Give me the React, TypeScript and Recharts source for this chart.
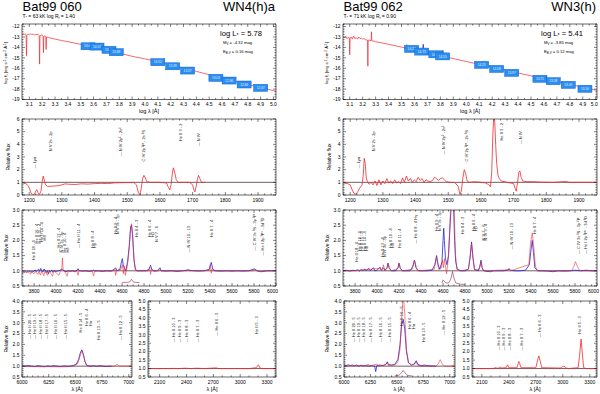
import { ComposedChart, Line, Scatter, XAxis, YAxis, ReferenceLine, ReferenceArea } from 'recharts'

// ---------- Bat99 060 (left column) ----------
const sedModelA = [
  [3.043, -12.72], [3.05, -12.68], [3.06, -12.74], [3.07, -12.7], [3.075, -12.8], [3.078, -14.8], [3.081, -12.85],
  [3.09, -12.72], [3.1, -12.78], [3.11, -12.7], [3.12, -12.76], [3.13, -12.72], [3.14, -12.8], [3.15, -12.74],
  [3.16, -12.78], [3.17, -12.75], [3.177, -12.85], [3.18, -15.6], [3.183, -12.9], [3.19, -12.82], [3.2, -12.8],
  [3.207, -12.9], [3.21, -14.5], [3.213, -12.95], [3.22, -12.9], [3.228, -12.95], [3.231, -14.2], [3.234, -13.0],
  [3.25, -13.05], [3.3, -13.2], [3.35, -13.33], [3.4, -13.45], [3.5, -13.7], [3.6, -13.98], [3.7, -14.25],
  [3.8, -14.55], [3.9, -14.85], [4.0, -15.1], [4.1, -15.37], [4.2, -15.7], [4.3, -16.0], [4.4, -16.3],
  [4.5, -16.62], [4.6, -16.93], [4.7, -17.23], [4.8, -17.55], [4.9, -17.85], [5.0, -18.15], [5.02, -18.2],
]
const sedObsA = [
  [3.52, -13.75], [3.54, -13.82], [3.56, -13.85], [3.58, -13.9], [3.6, -13.95], [3.62, -14.0], [3.64, -14.05],
  [3.66, -14.1], [3.671, -13.95], [3.68, -14.15], [3.7, -14.2], [3.72, -14.28], [3.74, -14.33], [3.76, -14.4],
  [3.78, -14.45], [3.8, -14.5], [3.82, -14.55],
]
const photLogA = [3.557, 3.627, 3.72, 3.777, 4.1, 4.216, 4.332, 4.552, 4.655, 4.772, 4.901]
const photFluxA = [-13.89, -13.92, -14.23, -14.46, -15.42, -15.81, -16.22, -16.92, -17.18, -17.56, -17.88]
const photMagA = ['13.62', '14.07', '13.96', '13.88', '13.52', '13.39', '13.27', '13.03', '12.96', '12.84', '12.67']

const uvModelA = [
  [1178, 0.95], [1190, 0.9], [1198, 0.7], [1205, 0.2], [1210, 0.02], [1216, 0.05], [1220, 0.3], [1223, 0.42],
  [1227, 0.2], [1231, 0.02], [1236, 0.3], [1240, 1.1], [1243, 1.5], [1246, 1.2], [1250, 0.8], [1256, 0.68],
  [1270, 0.7], [1285, 0.72], [1300, 0.8], [1310, 0.88], [1320, 0.85], [1340, 0.83], [1360, 0.88], [1380, 0.86],
  [1400, 0.9], [1420, 0.92], [1440, 0.9], [1460, 0.95], [1480, 0.97], [1500, 0.98], [1520, 0.98], [1528, 0.8],
  [1534, 0.2], [1538, 0.02], [1542, 0.4], [1547, 1.3], [1551, 1.55], [1555, 1.35], [1560, 1.05], [1570, 1.0],
  [1600, 1.0], [1620, 0.95], [1626, 0.6], [1630, 0.4], [1634, 0.8], [1638, 1.7], [1641, 2.15], [1645, 1.8],
  [1650, 1.2], [1656, 1.0], [1690, 1.0], [1700, 0.8], [1704, 0.4], [1707, 0.25], [1711, 0.7], [1715, 1.3],
  [1718, 1.55], [1722, 1.3], [1727, 1.0], [1740, 1.0],
]
const uvIdsA = [
  { w: 1216, t: '— Lyα', y: 2.1 },
  { w: 1264, t: 'N V 2s - 2p', y: 3.45 },
  { w: 1478, t: '— N IV 2p² - 2s²', y: 3.05 },
  { w: 1549, t: 'C IV 2p ²P - 2s ²S', y: 2.65 },
  { w: 1664, t: 'He II 3 - 2', y: 4.25 },
  { w: 1717, t: '— N IV', y: 3.85 },
]

const optObsA = [
  [3690, 0.95], [3700, 0.97], [3710, 0.94], [3720, 0.98], [3730, 0.95], [3740, 0.99], [3750, 0.96], [3760, 1.0],
  [3770, 0.95], [3780, 0.98], [3790, 0.96], [3800, 1.0], [3810, 1.03], [3820, 0.97], [3830, 1.02], [3840, 1.05],
  [3850, 0.98], [3860, 1.08], [3870, 1.0], [3880, 0.96], [3890, 1.06], [3900, 1.02], [3910, 0.94], [3920, 1.0],
  [3930, 0.9], [3940, 1.0], [3950, 0.97], [3960, 1.02], [3970, 0.95], [3980, 1.0], [4000, 0.98], [4020, 1.0],
  [4040, 1.02], [4058, 1.05], [4070, 1.0], [4090, 0.97], [4110, 1.0], [4130, 0.98], [4150, 1.0], [4170, 0.97],
  [4190, 1.02], [4200, 1.07], [4210, 1.0], [4240, 0.99], [4270, 1.0], [4300, 0.98], [4330, 1.0], [4340, 1.03],
  [4350, 0.99], [4380, 1.0], [4420, 0.98], [4460, 1.0], [4500, 0.99], [4530, 1.05], [4541, 1.1], [4555, 1.0],
  [4580, 1.05], [4598, 1.35], [4603, 1.4], [4610, 1.2], [4620, 1.1], [4635, 1.0], [4650, 1.3], [4665, 1.8],
  [4678, 2.45], [4686, 2.5], [4695, 2.2], [4708, 1.4], [4720, 1.05], [4740, 1.0], [4780, 1.0], [4820, 1.0],
  [4845, 1.05], [4859, 1.18], [4870, 1.05], [4890, 0.99], [4920, 1.0], [4945, 1.1], [4955, 1.0], [5000, 0.99],
  [5050, 1.0], [5100, 0.98], [5150, 1.0], [5200, 1.03], [5250, 1.0], [5300, 0.99], [5350, 1.0], [5395, 1.05],
  [5411, 1.28], [5425, 1.05], [5450, 1.0], [5500, 0.99], [5550, 1.0], [5600, 0.99], [5650, 1.0], [5700, 0.99],
  [5750, 1.0], [5805, 1.06], [5830, 1.0], [5860, 0.97], [5880, 0.98], [5920, 1.0], [5960, 1.0], [6000, 1.0],
]
const optModelA = [
  [3690, 0.97], [3720, 0.96], [3750, 0.95], [3770, 0.9], [3780, 0.97], [3797, 0.9], [3810, 0.98], [3835, 0.88],
  [3845, 0.98], [3858, 0.86], [3870, 0.99], [3889, 0.84], [3900, 0.99], [3923, 0.85], [3935, 1.0], [3968, 0.82],
  [3980, 1.0], [4026, 0.85], [4040, 1.0], [4052, 1.1], [4058, 1.42], [4064, 1.05], [4075, 1.0], [4100, 0.82],
  [4112, 1.0], [4190, 0.98], [4200, 0.85], [4210, 1.03], [4215, 1.0], [4330, 0.98], [4340, 0.83], [4352, 1.0],
  [4520, 0.99], [4535, 1.05], [4541, 0.85], [4550, 1.0], [4590, 1.05], [4603, 1.2], [4612, 0.9], [4620, 1.15],
  [4630, 0.85], [4645, 1.1], [4660, 1.5], [4675, 2.3], [4686, 2.55], [4697, 2.1], [4710, 1.3], [4725, 1.0],
  [4840, 1.0], [4852, 1.1], [4859, 0.88], [4868, 1.05], [4880, 1.0], [4935, 1.0], [4945, 1.05], [4955, 1.0],
  [5190, 1.0], [5200, 1.03], [5210, 1.0], [5390, 1.02], [5402, 1.2], [5411, 0.92], [5418, 1.05], [5430, 1.0],
  [5790, 1.0], [5805, 1.06], [5820, 1.0], [5876, 0.97], [5890, 1.0], [6000, 1.0],
]
const optInsetA = [[4600, 0.62], [4650, 0.62], [4670, 0.64], [4686, 0.72], [4700, 0.64], [4720, 0.62], [4760, 0.61]]
const optIdsA = [
  { w: 3796, t: 'He II 18 - 4', y: 1.35 },
  { w: 3822, t: 'He II 16 - 4', y: 1.9 },
  { w: 3845, t: 'He II 15 - 4', y: 1.9 },
  { w: 3868, t: 'He II 14 - 4', y: 1.95 },
  { w: 3892, t: 'H8', y: 2.0 },
  { w: 4026, t: '— He II 13 - 4', y: 1.6 },
  { w: 4052, t: 'N IV 3s - 3p', y: 1.6 },
  { w: 4080, t: 'He II 10 - 4', y: 1.6 },
  { w: 4102, t: 'Hδ', y: 1.6 },
  { w: 4200, t: '— He II 11 - 4', y: 1.75 },
  { w: 4330, t: 'He II 8 - 4', y: 1.75 },
  { w: 4352, t: 'Hγ', y: 1.75 },
  { w: 4536, t: 'He II 9 - 4', y: 2.2 },
  { w: 4560, t: 'N V 3s - 3p', y: 2.2 },
  { w: 4730, t: 'He II 4 - 3', y: 2.1 },
  { w: 4852, t: 'He II 6 - 4', y: 2.1 },
  { w: 4874, t: 'Hβ', y: 2.1 },
  { w: 4910, t: 'N V 7 - 6', y: 1.95 },
  { w: 5205, t: '— N IV 10 - 13', y: 1.6 },
  { w: 5415, t: 'He II 7 - 4', y: 2.1 },
  { w: 5805, t: '— C IV 3s ²S - 3p ²P', y: 1.67 },
  { w: 5876, t: '— He I 2p ³P° - 3d ³D', y: 1.5 },
]

const redObsA = [
  [6000, 1.02], [6030, 1.0], [6060, 1.03], [6090, 1.0], [6120, 0.98], [6150, 1.02], [6180, 1.0], [6210, 0.97],
  [6240, 1.01], [6270, 0.99], [6300, 1.02], [6330, 1.0], [6360, 0.98], [6390, 1.01], [6420, 1.0], [6450, 1.0],
  [6480, 1.03], [6510, 1.1], [6530, 1.3], [6545, 1.6], [6560, 1.75], [6575, 1.55], [6590, 1.2], [6610, 1.03],
  [6640, 1.0], [6670, 1.02], [6700, 0.99], [6730, 1.02], [6760, 1.0], [6790, 0.98], [6840, 1.0],
]
const redModelA = [
  [6000, 1.0], [6074, 0.98], [6118, 0.98], [6170, 0.97], [6233, 0.98], [6311, 0.97], [6406, 0.97], [6480, 1.0],
  [6520, 1.1], [6540, 1.4], [6560, 1.72], [6580, 1.4], [6600, 1.05], [6620, 1.0], [6683, 1.02], [6700, 1.0],
  [6870, 1.0], [6891, 1.1], [6910, 1.0], [7030, 1.0],
]
const redIdsA = [
  { w: 6074, t: '— He II 20 - 5', y: 2.25 },
  { w: 6118, t: '— He II 19 - 5', y: 2.25 },
  { w: 6170, t: '— He II 18 - 5', y: 2.25 },
  { w: 6233, t: '— He II 17 - 5', y: 2.25 },
  { w: 6311, t: '— He II 16 - 5', y: 2.25 },
  { w: 6406, t: '— He II 15 - 5', y: 2.25 },
  { w: 6545, t: 'He II 14 - 5', y: 2.55 },
  { w: 6605, t: 'He II 6 - 4', y: 2.85 },
  { w: 6640, t: 'Hα', y: 2.85 },
  { w: 6715, t: 'He II 13 - 5', y: 2.2 },
  { w: 6918, t: '— He II 12 - 5', y: 2.2 },
]

const nuvModelA = [
  [1970, 1.0], [2200, 1.0], [2253, 1.01], [2306, 1.0], [2385, 1.02], [2450, 1.0], [2511, 1.02], [2600, 1.0],
  [2733, 1.04], [2760, 1.0], [3100, 1.0], [3180, 1.05], [3203, 1.22], [3220, 1.05], [3240, 1.0], [3400, 1.0],
]
const nuvIdsA = [
  { w: 2253, t: '— He II 10 - 3', y: 2.55 },
  { w: 2327, t: '— He II 9 - 3', y: 2.55 },
  { w: 2395, t: '— He II 8 - 3', y: 2.55 },
  { w: 2521, t: '— He II 7 - 3', y: 2.55 },
  { w: 2737, t: '— He II 6 - 3', y: 2.95 },
  { w: 3184, t: 'He II 5 - 3', y: 3.05 },
]

// ---------- Bat99 062 (right column) ----------
const sedModelB = [
  [3.048, -13.05], [3.055, -13.0], [3.06, -13.1], [3.07, -12.95], [3.08, -13.15], [3.09, -13.0], [3.097, -13.1],
  [3.1, -14.7], [3.103, -13.1], [3.11, -13.0], [3.12, -13.2], [3.13, -12.9], [3.14, -13.15], [3.15, -13.05],
  [3.16, -13.2], [3.17, -13.0], [3.18, -13.15], [3.19, -13.1], [3.2, -13.2], [3.21, -13.15], [3.22, -13.25],
  [3.237, -13.3], [3.24, -15.8], [3.243, -13.3], [3.25, -13.3], [3.265, -13.35], [3.268, -12.5], [3.271, -13.35],
  [3.3, -13.45], [3.4, -13.7], [3.5, -13.97], [3.6, -14.25], [3.7, -14.52], [3.8, -14.8], [3.9, -15.07],
  [4.0, -15.35], [4.1, -15.62], [4.2, -15.9], [4.3, -16.17], [4.4, -16.45], [4.5, -16.73], [4.6, -17.0],
  [4.7, -17.27], [4.8, -17.55], [4.9, -17.82], [5.0, -18.1], [5.01, -18.13],
]
const sedObsB = [
  [3.52, -14.05], [3.535, -14.1], [3.54, -13.75], [3.545, -14.15], [3.56, -14.15], [3.58, -14.2], [3.6, -14.25],
  [3.62, -14.3], [3.64, -14.38], [3.66, -14.45], [3.668, -13.7], [3.674, -14.5], [3.69, -14.5], [3.7, -14.4],
  [3.71, -14.6], [3.73, -14.65], [3.75, -14.7], [3.76, -14.55], [3.78, -14.75], [3.8, -14.8], [3.815, -14.82],
  [3.82, -14.3], [3.825, -15.0], [3.83, -14.85],
]
const photLogB = [3.578, 3.656, 3.765, 3.818, 4.119, 4.235, 4.351, 4.569, 4.672, 4.788, 4.917]
const photFluxB = [-14.14, -14.4, -14.66, -14.86, -15.67, -16.06, -16.44, -17.01, -17.24, -17.59, -17.97]
const photMagB = ['14.22', '14.73', '14.61', '14.55', '14.23', '14.08', '13.97', '13.71', '13.58', '13.49', '13.30']

const uvModelB = [
  [1178, 0.95], [1192, 0.9], [1200, 0.8], [1206, 0.4], [1212, 0.1], [1218, 0.05], [1224, 0.3], [1230, 0.6],
  [1236, 0.75], [1240, 1.6], [1243, 2.9], [1246, 2.5], [1249, 1.4], [1253, 1.0], [1258, 0.85], [1264, 1.0],
  [1270, 0.8], [1276, 1.1], [1282, 0.75], [1288, 1.2], [1294, 0.8], [1300, 1.1], [1306, 0.9], [1312, 1.3],
  [1318, 0.95], [1324, 1.1], [1330, 0.9], [1336, 1.2], [1342, 0.95], [1348, 1.05], [1354, 0.9], [1360, 1.35],
  [1366, 1.0], [1372, 1.5], [1378, 1.1], [1384, 1.3], [1390, 1.0], [1396, 1.2], [1402, 1.05], [1408, 1.4],
  [1414, 1.15], [1420, 1.3], [1426, 1.0], [1432, 1.2], [1438, 1.1], [1444, 1.05], [1452, 1.15], [1458, 1.4],
  [1464, 1.3], [1470, 1.15], [1476, 1.3], [1482, 1.35], [1488, 1.2], [1494, 1.05], [1505, 1.0], [1520, 0.98],
  [1530, 0.7], [1536, 0.05], [1540, 0.3], [1545, 1.4], [1549, 2.0], [1553, 1.7], [1558, 1.1], [1565, 1.0],
  [1580, 1.05], [1600, 1.0], [1615, 0.95], [1624, 0.8], [1629, 0.65], [1633, 1.8], [1636, 4.5], [1639, 6.2],
  [1642, 5.9], [1645, 4.0], [1648, 2.5], [1652, 1.6], [1656, 1.3], [1662, 1.1], [1680, 1.0], [1700, 0.9],
  [1705, 0.5], [1708, 0.3], [1712, 1.0], [1716, 1.8], [1719, 1.9], [1723, 1.4], [1728, 1.1], [1740, 1.05],
  [1760, 1.05], [1780, 1.02], [1820, 1.0], [1860, 1.06], [1870, 1.0], [1955, 1.0],
]
const uvIdsB = [
  { w: 1225, t: '— Lyα', y: 2.1 },
  { w: 1271, t: 'N V 2s - 2p', y: 3.45 },
  { w: 1485, t: '— N IV 2p² - 2s²', y: 3.2 },
  { w: 1557, t: 'C IV 2p ²P - 2s ²S', y: 2.65 },
  { w: 1662, t: 'He II 3 - 2', y: 4.3 },
  { w: 1720, t: '— N IV', y: 4.0 },
]

const optObsB = [
  [3690, 1.0], [3720, 1.02], [3750, 0.99], [3780, 1.02], [3800, 1.0], [3820, 1.03], [3840, 0.99], [3858, 1.05],
  [3870, 1.0], [3889, 1.06], [3900, 1.0], [3923, 1.08], [3935, 1.0], [3968, 1.1], [3980, 1.0], [4000, 1.02],
  [4026, 1.12], [4040, 1.02], [4058, 1.1], [4070, 1.02], [4090, 1.1], [4100, 1.25], [4110, 1.1], [4130, 1.0],
  [4170, 1.0], [4190, 1.1], [4200, 1.25], [4210, 1.1], [4230, 1.0], [4300, 1.0], [4325, 1.15], [4340, 1.35],
  [4355, 1.1], [4380, 1.0], [4450, 1.0], [4500, 1.02], [4525, 1.2], [4541, 1.5], [4555, 1.2], [4570, 1.05],
  [4590, 1.3], [4600, 2.0], [4606, 2.4], [4612, 2.0], [4622, 1.4], [4635, 1.2], [4650, 1.5], [4665, 2.6],
  [4676, 3.2], [4686, 3.5], [4696, 3.1], [4705, 2.0], [4715, 1.3], [4730, 1.05], [4760, 1.0], [4800, 1.0],
  [4830, 1.05], [4845, 1.4], [4859, 1.95], [4870, 1.5], [4885, 1.05], [4920, 1.0], [4935, 1.15], [4945, 1.35],
  [4955, 1.1], [4970, 1.0], [5000, 0.98], [5030, 0.97], [5060, 1.0], [5100, 1.0], [5150, 1.0], [5190, 1.03],
  [5200, 1.06], [5215, 1.02], [5250, 1.0], [5300, 1.0], [5350, 1.02], [5385, 1.2], [5400, 1.7], [5411, 2.0],
  [5422, 1.6], [5435, 1.1], [5460, 1.0], [5500, 1.0], [5550, 0.99], [5600, 0.97], [5650, 1.0], [5700, 0.99],
  [5750, 1.0], [5800, 1.02], [5850, 1.0], [5900, 1.02], [5950, 1.0], [6000, 1.0],
]
const optModelB = [
  [3690, 1.0], [3780, 1.0], [3858, 1.03], [3889, 1.04], [3923, 1.05], [3968, 1.06], [4026, 1.08], [4040, 1.0],
  [4058, 1.2], [4070, 1.0], [4090, 1.08], [4100, 1.25], [4110, 1.08], [4130, 1.0], [4190, 1.08], [4200, 1.25],
  [4210, 1.08], [4230, 1.0], [4320, 1.05], [4340, 1.35], [4358, 1.05], [4380, 1.0], [4520, 1.05], [4541, 1.45],
  [4560, 1.05], [4585, 1.1], [4596, 1.35], [4603, 1.1], [4612, 1.4], [4620, 1.2], [4632, 0.9], [4645, 1.3],
  [4660, 2.3], [4672, 3.4], [4686, 4.2], [4700, 3.2], [4712, 1.6], [4725, 1.05], [4760, 1.0], [4830, 1.05],
  [4845, 1.45], [4859, 1.9], [4873, 1.4], [4888, 1.02], [4930, 1.05], [4945, 1.3], [4958, 1.05], [4980, 1.0],
  [5190, 1.03], [5200, 1.08], [5212, 1.0], [5380, 1.2], [5395, 1.9], [5411, 2.25], [5425, 1.8], [5440, 1.15],
  [5460, 1.0], [5770, 1.0], [5790, 1.15], [5805, 1.3], [5820, 1.15], [5840, 1.02], [5870, 1.0], [6000, 1.0],
]
const optInsetB = [
  [4590, 0.6], [4600, 0.7], [4610, 0.66], [4625, 0.6], [4650, 0.6], [4670, 0.72], [4686, 0.98], [4700, 0.75],
  [4715, 0.6], [4760, 0.56], [4800, 0.55],
]
const optIdsB = [
  { w: 3815, t: 'He II 18 - 4', y: 1.3 },
  { w: 3840, t: 'He II 16 - 4', y: 1.65 },
  { w: 3862, t: 'He II 15 - 4', y: 1.65 },
  { w: 3884, t: 'He II 14 - 4', y: 1.65 },
  { w: 3906, t: 'H8', y: 1.65 },
  { w: 4045, t: 'He II 13 - 4', y: 1.45 },
  { w: 4068, t: 'N IV 3s - 3p', y: 1.45 },
  { w: 4118, t: 'He II 10 - 4', y: 1.75 },
  { w: 4140, t: 'Hδ', y: 1.75 },
  { w: 4205, t: 'He II 11 - 4', y: 1.75 },
  { w: 4345, t: '— He II 8 - 4 Hγ', y: 1.9 },
  { w: 4545, t: 'He II 9 - 4', y: 2.3 },
  { w: 4570, t: 'N V 3s - 3p', y: 2.3 },
  { w: 4778, t: 'He II 4 - 3', y: 2.2 },
  { w: 4875, t: 'He II 6 - 4', y: 2.3 },
  { w: 4898, t: 'Hβ', y: 2.3 },
  { w: 4965, t: 'N V 7 - 6', y: 2.0 },
  { w: 4990, t: 'N IV 3 - 4', y: 2.0 },
  { w: 5224, t: '— N IV 10 - 13', y: 1.7 },
  { w: 5435, t: 'He II 7 - 4', y: 2.2 },
  { w: 5829, t: '— C IV 3s ²S - 3p ²P', y: 1.55 },
  { w: 5899, t: '— He I 2p ³P° - 3d ³D', y: 1.55 },
]

const redObsB = [
  [6000, 1.05], [6020, 1.02], [6040, 1.06], [6060, 1.03], [6080, 1.05], [6100, 1.02], [6120, 1.05], [6140, 1.0],
  [6160, 1.04], [6180, 1.01], [6200, 1.03], [6230, 1.0], [6260, 1.02], [6290, 1.0], [6300, 0.75], [6310, 1.02],
  [6340, 1.05], [6370, 1.03], [6400, 1.1], [6410, 1.2], [6420, 1.08], [6450, 1.05], [6480, 1.08], [6510, 1.3],
  [6530, 2.0], [6545, 2.9], [6560, 3.15], [6575, 2.7], [6590, 1.7], [6610, 1.15], [6640, 1.05], [6665, 1.1],
  [6683, 1.25], [6700, 1.08], [6730, 1.02], [6760, 1.05], [6790, 1.02], [6870, 1.0],
]
const redModelB = [
  [6000, 1.0], [6050, 1.02], [6100, 1.0], [6118, 1.04], [6130, 1.0], [6170, 1.05], [6185, 1.0], [6233, 1.08],
  [6245, 1.0], [6311, 1.1], [6325, 1.0], [6390, 1.05], [6406, 1.15], [6420, 1.03], [6480, 1.05], [6510, 1.2],
  [6530, 1.8], [6545, 3.2], [6560, 4.3], [6575, 3.4], [6590, 1.8], [6610, 1.15], [6640, 1.05], [6670, 1.1],
  [6683, 1.2], [6695, 1.05], [6720, 1.0], [6870, 1.0], [6890, 1.1], [6910, 1.3], [6930, 1.1], [6950, 1.0],
  [7050, 1.0],
]
const redInsetB = [[6480, 0.55], [6520, 0.58], [6545, 0.7], [6560, 0.8], [6575, 0.7], [6600, 0.58], [6640, 0.55]]
const redIdsB = [
  { w: 6088, t: '— He II 20 - 5', y: 2.1 },
  { w: 6135, t: '— He II 19 - 5', y: 2.1 },
  { w: 6183, t: '— He II 18 - 5', y: 2.1 },
  { w: 6253, t: '— He II 17 - 5', y: 2.1 },
  { w: 6341, t: '— He II 16 - 5', y: 2.1 },
  { w: 6435, t: '— He II 15 - 5', y: 2.1 },
  { w: 6546, t: 'He II 14 - 5', y: 2.85 },
  { w: 6624, t: 'He II 6 - 4', y: 2.7 },
  { w: 6660, t: 'Hα', y: 2.7 },
  { w: 6750, t: 'He II 13 - 5', y: 2.1 },
  { w: 6940, t: '— He II 12 - 5', y: 2.45 },
]

const nuvModelB = [
  [1990, 1.0], [2200, 1.0], [2240, 1.02], [2253, 1.06], [2266, 1.02], [2295, 1.03], [2306, 1.1], [2318, 1.03],
  [2370, 1.05], [2385, 1.22], [2400, 1.05], [2490, 1.05], [2505, 1.3], [2511, 1.42], [2520, 1.3], [2535, 1.05],
  [2700, 1.05], [2720, 1.5], [2733, 1.75], [2746, 1.5], [2765, 1.05], [2980, 1.03], [3000, 1.12], [3015, 1.15],
  [3030, 1.05], [3060, 1.0], [3170, 1.05], [3185, 1.7], [3203, 2.75], [3218, 1.8], [3232, 1.05], [3260, 1.0],
  [3380, 1.0],
]
const nuvIdsB = [
  { w: 2290, t: '— He II 10 - 3', y: 2.07 },
  { w: 2338, t: '— He II 9 - 3', y: 2.07 },
  { w: 2405, t: '— He II 8 - 3', y: 2.07 },
  { w: 2543, t: '— He II 7 - 3', y: 2.07 },
  { w: 2746, t: '— He II 6 - 3', y: 2.86 },
  { w: 3191, t: 'He II 5 - 3', y: 3.06 },
]

// ---------- tick labels ----------
const sedXTicks = [3.1, 3.2, 3.3, 3.4, 3.5, 3.6, 3.7, 3.8, 3.9, 4.0, 4.1, 4.2, 4.3, 4.4, 4.5, 4.6, 4.7, 4.8, 4.9, 5.0]
const sedYTicks = [-19, -18, -17, -16, -15, -14, -13, -12]
const uvXTicks = [1200, 1300, 1400, 1500, 1600, 1700, 1800, 1900]
const uvYTicks = [0, 1, 2, 3, 4, 5, 6]
const optXTicks = [3800, 4000, 4200, 4400, 4600, 4800, 5000, 5200, 5400, 5600, 5800, 6000]
const optYTicks = [0.5, 1.0, 1.5, 2.0, 2.5, 3.0]
const redXTicks = [6000, 6250, 6500, 6750, 7000]
const redYTicks = [0.5, 1.0, 1.5, 2.0, 2.5, 3.0, 3.5, 4.0]
const nuvXTicks = [2100, 2400, 2700, 3000, 3300]
const nuvYTicks = [0.5, 1.0, 1.5, 2.0, 2.5, 3.0, 3.5, 4.0, 4.5, 5.0]

const RED = '#ee2a30'
const BLUE = '#2323d8'
const INSET = '#8a2840'

type Pt = { x: number; y: number }
const xy = (a: number[][]): Pt[] => a.map(([x, y]) => ({ x, y }))

interface Series { data: number[][]; color: string; width?: number; opacity?: number }
interface Lbl { w: number; t: string; y: number }
interface Box { x: number; y: number; m: string }

interface PanelProps {
  x: number
  y: number
  w: number
  h: number
  xDom: [number, number]
  yDom: [number, number]
  xMajor: number[]
  yMajor: number[]
  xStep: number
  yStep: number
  xFmt: (v: number) => string
  yFmt: (v: number) => string
  series: Series[]
  over?: Series[]
  labels?: Lbl[]
  boxes?: Box[]
  unity?: boolean
}

const minorTicks = (dom: [number, number], step: number) => {
  const out: number[] = []
  const n0 = Math.ceil(dom[0] / step - 1e-9)
  const n1 = Math.floor(dom[1] / step + 1e-9)
  for (let i = n0; i <= n1; i++) out.push(+(i * step).toFixed(4))
  return out
}
const isMajor = (v: number, majors: number[]) => majors.some((m) => Math.abs(m - v) < 1e-6)

const LabelShape = (s: any) => (
  <text
    transform={`rotate(-90 ${s.cx} ${s.cy})`}
    x={s.cx}
    y={s.cy}
    dy={1.5}
    fontSize={4}
    fill="#111"
  >
    {s.payload.t}
  </text>
)

const BoxShape = (s: any) => (
  <g>
    <rect x={s.cx - 7} y={s.cy - 3.5} width={14} height={7} fill="#2a8ef0" stroke="#1160d8" strokeWidth={0.5} />
    <text x={s.cx} y={s.cy + 1.2} textAnchor="middle" fontSize={3.2} fill="#e6f2ff">
      {s.payload.m}
    </text>
  </g>
)

function Panel(p: PanelProps) {
  // axes get 1px so they are drawn; the plot box sits inside the margins
  const m = { top: 4, right: 12, bottom: 11, left: 19 }
  const W = p.w + m.left + m.right + 1
  const H = p.h + m.top + m.bottom + 1
  const top = m.top
  const bot = m.top + p.h
  const lft = m.left + 1
  const rgt = lft + p.w
  const xt = minorTicks(p.xDom, p.xStep)
  const yt = minorTicks(p.yDom, p.yStep)

  const XTick = (t: any) => {
    const v = t.payload.value
    const big = isMajor(v, p.xMajor)
    const L = big ? 3 : 1.6
    // a label sitting on the right frame is pulled inside, like in the original plot
    const atEdge = Math.abs(t.x - rgt) < 1.5
    return (
      <g>
        <line x1={t.x} x2={t.x} y1={bot} y2={bot - L} stroke="#000" strokeWidth={0.5} />
        <line x1={t.x} x2={t.x} y1={top} y2={top + L} stroke="#000" strokeWidth={0.5} />
        {big && (
          <text
            x={atEdge ? t.x + 2 : t.x}
            y={bot + 6.5}
            textAnchor={atEdge ? 'end' : 'middle'}
            fontSize={5}
            fill="#000"
          >
            {p.xFmt(v)}
          </text>
        )}
      </g>
    )
  }
  const YTick = (t: any) => {
    const v = t.payload.value
    const big = isMajor(v, p.yMajor)
    const L = big ? 3 : 1.6
    return (
      <g>
        <line x1={lft} x2={lft + L} y1={t.y} y2={t.y} stroke="#000" strokeWidth={0.5} />
        <line x1={rgt} x2={rgt - L} y1={t.y} y2={t.y} stroke="#000" strokeWidth={0.5} />
        {big && (
          <text x={lft - 2.5} y={t.y + 1.8} textAnchor="end" fontSize={5} fill="#000">
            {p.yFmt(v)}
          </text>
        )}
      </g>
    )
  }

  const drawLine = (s: Series, i: number, k: string) => (
    <Line
      key={k + i}
      xAxisId="b"
      yAxisId="l"
      data={xy(s.data)}
      dataKey="y"
      type="linear"
      stroke={s.color}
      strokeWidth={s.width ?? 0.8}
      strokeOpacity={s.opacity ?? 1}
      dot={false}
      activeDot={false}
      isAnimationActive={false}
    />
  )

  return (
    <div style={{ position: 'absolute', left: p.x - lft, top: p.y - top }}>
      <ComposedChart width={W} height={H} margin={m}>
        <XAxis
          xAxisId="b"
          type="number"
          dataKey="x"
          domain={p.xDom}
          allowDataOverflow
          ticks={xt}
          interval={0}
          tick={XTick}
          tickLine={false}
          axisLine={false}
          tickSize={0}
          tickMargin={0}
          height={1}
        />
        <YAxis
          yAxisId="l"
          type="number"
          dataKey="y"
          domain={p.yDom}
          allowDataOverflow
          ticks={yt}
          interval={0}
          tick={YTick}
          tickLine={false}
          axisLine={false}
          tickSize={0}
          tickMargin={0}
          width={1}
        />
        {p.unity && <ReferenceLine xAxisId="b" yAxisId="l" y={1} stroke="#3a1a1a" strokeWidth={0.7} />}
        {p.series.map((s, i) => drawLine(s, i, 's'))}
        {p.boxes && (
          <Scatter
            xAxisId="b"
            yAxisId="l"
            data={p.boxes}
            dataKey="y"
            shape={BoxShape}
            isAnimationActive={false}
          />
        )}
        {(p.over || []).map((s, i) => drawLine(s, i, 'o'))}
        {p.labels && (
          <Scatter
            xAxisId="b"
            yAxisId="l"
            data={p.labels.map((l) => ({ x: l.w, y: l.y, t: l.t }))}
            dataKey="y"
            shape={LabelShape}
            isAnimationActive={false}
          />
        )}
        <ReferenceArea
          xAxisId="b"
          yAxisId="l"
          x1={p.xDom[0]}
          x2={p.xDom[1]}
          y1={p.yDom[0]}
          y2={p.yDom[1]}
          fill="none"
          stroke="#000"
          strokeWidth={0.6}
          ifOverflow="visible"
        />
      </ComposedChart>
    </div>
  )
}

const f1 = (v: number) => v.toFixed(1)
const f0 = (v: number) => String(v)
const boxes = (l: number[], f: number[], mg: string[]) => l.map((x, i) => ({ x, y: f[i], m: mg[i] }))

function Column({ dx, sed, sedObs, photo, uv, uvIds, opt, optIds, red, redIds, nuv, nuvIds, sedDom, redDom, nuvDom }: any) {
  const W = 254
  return (
    <>
      <Panel x={dx} y={23.5} w={W} h={75.5} xDom={sedDom} yDom={[-19, -11.75]} xMajor={sedXTicks} yMajor={sedYTicks}
        xStep={0.05} yStep={0.25} xFmt={f1} yFmt={f0}
        series={[{ data: sed, color: RED, width: 0.7 }]} boxes={photo} over={[{ data: sedObs, color: '#1a1ab0', width: 0.7 }]} />
      <Panel x={dx} y={119} w={W} h={76} xDom={[1178, 1955]} yDom={[0, 6]} xMajor={uvXTicks} yMajor={uvYTicks}
        xStep={20} yStep={0.2} xFmt={f0} yFmt={f0} unity
        series={[{ data: uv, color: RED, width: 0.8 }]} labels={uvIds} />
      <Panel x={dx} y={209.5} w={W} h={76} xDom={[3690, 6000]} yDom={[0.5, 3.0]} xMajor={optXTicks} yMajor={optYTicks}
        xStep={50} yStep={0.1} xFmt={f0} yFmt={f1} unity
        series={opt} labels={optIds} />
      <Panel x={red.x} y={300.5} w={red.w} h={76} xDom={redDom} yDom={[0.5, 4.0]} xMajor={redXTicks} yMajor={redYTicks}
        xStep={50} yStep={0.1} xFmt={f0} yFmt={f1} unity
        series={red.series} labels={redIds} />
      <Panel x={nuv.x} y={300.5} w={nuv.w} h={76} xDom={nuvDom} yDom={[0.5, 5.0]} xMajor={nuvXTicks} yMajor={nuvYTicks}
        xStep={100} yStep={0.1} xFmt={f0} yFmt={f1} unity
        series={[{ data: nuv.data, color: RED, width: 0.8 }]} labels={nuvIds} />
    </>
  )
}

const Sub = ({ children }: any) => <tspan dy={1.2} fontSize="70%">{children}</tspan>
const Up = ({ children }: any) => <tspan dy={-1.2}>{children}</tspan>

function Texts({ dx, name, type, tstar, rt, lum, mv, ebv, lc }: any) {
  return (
    <g>
      <text x={dx + 0.5} y={11} fontSize={13}>{name}</text>
      <text x={dx + 253} y={11} fontSize={13} textAnchor="end">{type}</text>
      <text x={dx + 0.5} y={18} fontSize={5}>
        T<Sub>*</Sub><Up> = {tstar} kK   log R</Up><Sub>t</Sub><Up> = {rt}</Up>
      </text>
      <text x={dx + 198} y={35.5} fontSize={7.6}>
        log L<Sub>*</Sub><Up> = {lum}</Up>
      </text>
      <text x={dx + 201} y={44} fontSize={4.2}>
        M<Sub>V</Sub><Up> = {mv} mag</Up>
      </text>
      <text x={dx + 201} y={53} fontSize={4.2}>
        E<Sub>B-V</Sub><Up> = {ebv} mag</Up>
      </text>
      <text transform={`translate(${lc - 15},63) rotate(-90)`} textAnchor="middle" fontSize={4.3}>
        log f<Sub>λ</Sub><Up> [erg s</Up><tspan dy={-1.5} fontSize="70%">-1</tspan><tspan dy={1.5}> cm</tspan>
        <tspan dy={-1.5} fontSize="70%">-2</tspan><tspan dy={1.5}> Å</tspan><tspan dy={-1.5} fontSize="70%">-1</tspan>
        <tspan dy={1.5}>]</tspan>
      </text>
      <text x={dx + 127} y={112.5} fontSize={5.5} textAnchor="middle">log λ [Å]</text>
      <text transform={`translate(${lc - 12},157) rotate(-90)`} textAnchor="middle" fontSize={5}>Relative flux</text>
      <text transform={`translate(${lc - 14},248) rotate(-90)`} textAnchor="middle" fontSize={5}>Relative flux</text>
      <text transform={`translate(${lc - 14},339) rotate(-90)`} textAnchor="middle" fontSize={5}>Relative flux</text>
    </g>
  )
}

export default function App() {
  const photoA = boxes(photLogA, photFluxA, photMagA)
  const photoB = boxes(photLogB, photFluxB, photMagB)
  return (
    <div
      style={{
        position: 'absolute',
        left: 0,
        top: 0,
        width: 600,
        height: 394,
        background: '#fff',
        fontFamily: "'Liberation Sans', Arial, sans-serif",
        overflow: 'hidden',
      }}
    >
      <Column
        dx={22}
        sed={sedModelA}
        sedObs={sedObsA}
        photo={photoA}
        sedDom={[3.043, 5.02]}
        uv={uvModelA}
        uvIds={uvIdsA}
        opt={[
          { data: optObsA, color: BLUE, width: 0.8 },
          { data: optModelA, color: RED, width: 0.8, opacity: 0.7 },
          { data: optInsetA, color: INSET, width: 0.6 },
        ]}
        optIds={optIdsA}
        red={{
          x: 22,
          w: 110,
          series: [
            { data: redObsA, color: BLUE, width: 0.8 },
            { data: redModelA, color: RED, width: 0.8, opacity: 0.7 },
          ],
        }}
        redDom={[6000, 7030]}
        redIds={redIdsA}
        nuv={{ x: 148, w: 128, data: nuvModelA }}
        nuvDom={[1970, 3400]}
        nuvIds={nuvIdsA}
      />
      <Column
        dx={343}
        sed={sedModelB}
        sedObs={sedObsB}
        photo={photoB}
        sedDom={[3.048, 5.01]}
        uv={uvModelB}
        uvIds={uvIdsB}
        opt={[
          { data: optObsB, color: BLUE, width: 0.8 },
          { data: optModelB, color: RED, width: 0.8, opacity: 0.7 },
          { data: optInsetB, color: INSET, width: 0.6 },
        ]}
        optIds={optIdsB}
        red={{
          x: 344,
          w: 111,
          series: [
            { data: redObsB, color: BLUE, width: 0.8 },
            { data: redModelB, color: RED, width: 0.8, opacity: 0.7 },
            { data: redInsetB, color: INSET, width: 0.6 },
          ],
        }}
        redDom={[6000, 7050]}
        redIds={redIdsB}
        nuv={{ x: 472, w: 125, data: nuvModelB }}
        nuvDom={[1990, 3380]}
        nuvIds={nuvIdsB}
      />
      <svg width={600} height={394} style={{ position: 'absolute', left: 0, top: 0, pointerEvents: 'none' }}>
        <Texts dx={22} name="Bat99 060" type="WN4(h)a" tstar="63" rt="1.40" lum="5.78" mv="-4.32" ebv="0.16" lc={22} />
        <Texts dx={343} name="Bat99 062" type="WN3(h)" tstar="71" rt="0.90" lum="5.41" mv="-3.85" ebv="0.12" lc={343} />
        <text x={77} y={390.5} fontSize={5.5} textAnchor="middle">λ [Å]</text>
        <text x={212} y={390.5} fontSize={5.5} textAnchor="middle">λ [Å]</text>
        <text x={399} y={390.5} fontSize={5.5} textAnchor="middle">λ [Å]</text>
        <text x={535} y={390.5} fontSize={5.5} textAnchor="middle">λ [Å]</text>
      </svg>
    </div>
  )
}
